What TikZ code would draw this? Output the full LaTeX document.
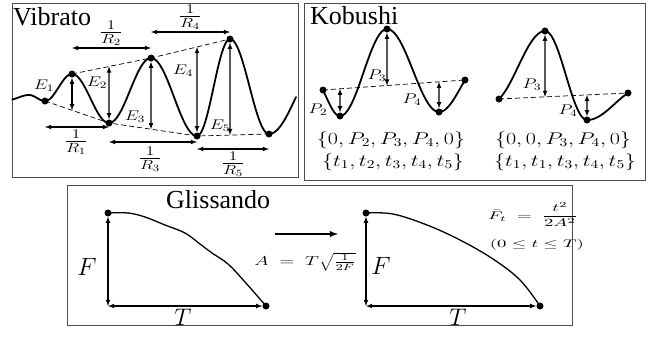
\RequirePackage{fix-cm}
\documentclass[tikz,border=0pt]{standalone}
\usepackage{fontspec}
\setmainfont{Liberation Serif}
\usepackage{tikz}
\usetikzlibrary{
  arrows,
  calc
}
\tikzset{>=latex}
\tikzset{
  panel/.style={draw=black!70, line width=0.9pt},
  wave/.style={line width=1.8pt, line cap=round, line join=round},
  envelope/.style={line width=0.7pt, dash pattern=on 5pt off 3pt},
  gap/.style={<->, line width=1.1pt},
  dot/.style={circle, fill=black, inner sep=0pt, minimum size=7pt},
  heading/.style={font=\fontsize{26}{28}\selectfont, inner sep=0pt, anchor=base west},
  elabel/.style={font=\fontsize{14}{16}\selectfont, inner sep=0pt},
  rlabel/.style={font=\fontsize{19}{21}\selectfont, inner sep=0pt},
  slabel/.style={font=\fontsize{17}{19}\selectfont, inner sep=0pt},
  glabel/.style={font=\fontsize{13}{15}\selectfont, inner sep=0pt},
  flabel/.style={font=\fontsize{11}{13}\selectfont, inner sep=0pt}
}
% math squeezed wider, as in the scan
\newcommand{\wide}[1]{\scalebox{1.3}[1]{$#1$}}
\newcommand{\wider}[1]{\scalebox{1.5}[1]{$#1$}}
\newcommand{\widest}[1]{\scalebox{1.7}[1]{$#1$}}

\begin{document}
\begin{tikzpicture}[x=1pt, y=-1pt]
  \useasboundingbox (0,0) rectangle (657,338);

  % panels
  \draw[panel] (12,3) rectangle (298,177);
  \draw[panel] (304,3) rectangle (645,180);
  \draw[panel] (67,185) rectangle (572,325);
  \node[heading] (vtitle) at (13,25) {Vibrato};
  \node[heading] (ktitle) at (310,24) {Kobushi};
  \node[heading] (gtitle) at (166,208) {Glissando};

  %%% Vibrato
  \coordinate (v0) at (45,101);
  \coordinate (v1) at (72,74);
  \coordinate (v2) at (109,123);
  \coordinate (v3) at (151,58);
  \coordinate (v4) at (197,136);
  \coordinate (v5) at (230,39);
  \coordinate (v6) at (269,134);
  \draw[envelope] (v1) -- (v3) -- (v5);
  \draw[envelope] (v0) -- (v2) -- (v4) -- (v6);
  \foreach \xa/\ya/\xb/\yb/\ta/\tb in {8/100/29/95/0.2/1, 29/95/45/101/0/1,
      45/101/72/74/0/1, 72/74/109/123/0/1, 109/123/151/58/0/1,
      151/58/197/136/0/1, 197/136/230/39/0/1, 230/39/269/134/0/1,
      269/134/323/60/0/0.5}
    \draw[wave] plot[domain=\ta:\tb, samples=30, variable=\t, smooth]
      ({\xa+(\xb-\xa)*\t}, {\ya+(\yb-\ya)*(1-cos(180*\t))/2});
  \foreach \p in {v0,v1,v2,v3,v4,v5,v6}
    \node[dot] (d\p) at (\p) {};

  \coordinate (e1) at ($(v0)!27/64!(v2)$);
  \coordinate (e2) at ($(v1)!37/79!(v3)$);
  \coordinate (e3) at ($(v2)!42/88!(v4)$);
  \coordinate (e4) at ($(v3)!46/79!(v5)$);
  \coordinate (e5) at ($(v4)!33/72!(v6)$);
  \draw[gap] (dv1) -- (e1);
  \draw[gap] (e2) -- (dv2);
  \draw[gap] (dv3) -- (e3);
  \draw[gap] (e4) -- (dv4);
  \draw[gap] (dv5) -- (e5);
  \node[elabel] (le1) at (44,86) {\wide{E_1}};
  \node[elabel] (le2) at (97,83) {\wide{E_2}};
  \node[elabel] (le3) at (135,117) {\wide{E_3}};
  \node[elabel] (le4) at (183,71) {\wide{E_4}};
  \node[elabel] (le5) at (220,126) {\wide{E_5}};

  \coordinate (r1a) at (v0 |- 0,127);  \coordinate (r1b) at (v2 |- 0,127);
  \coordinate (r2a) at (v1 |- 0,48);   \coordinate (r2b) at (v3 |- 0,48);
  \coordinate (r3a) at (v2 |- 0,142);  \coordinate (r3b) at (v4 |- 0,142);
  \coordinate (r4a) at (v3 |- 0,32);   \coordinate (r4b) at (v5 |- 0,32);
  \coordinate (r5a) at (v4 |- 0,149);  \coordinate (r5b) at (v6 |- 0,149);
  \foreach \i in {1,...,5}
    \draw[gap] (r\i a) -- (r\i b);
  \node[rlabel] (lr1) at (76,142) {\wide{\frac{1}{R_1}}};
  \node[rlabel] (lr2) at (111,33) {\wide{\frac{1}{R_2}}};
  \node[rlabel] (lr3) at (150,159) {\wide{\frac{1}{R_3}}};
  \node[rlabel] (lr4) at (190,17) {\wide{\frac{1}{R_4}}};
  \node[rlabel] (lr5) at (233,164) {\wide{\frac{1}{R_5}}};

  %%% Kobushi
  \coordinate (k0) at (323,90);
  \coordinate (k1) at (340,116);
  \coordinate (k2) at (387,29);
  \coordinate (k3) at (439,112);
  \coordinate (k4) at (465,80);
  \coordinate (q0) at (499,99);
  \coordinate (q1) at (545,31);
  \coordinate (q2) at (587,120);
  \coordinate (q3) at (628,93);
  \draw[envelope] (k0) -- (k4);
  \draw[envelope] (q0) -- (q3);
  \foreach \xa/\ya/\xb/\yb/\ta/\tb in {311.7/76.3/340/116/0.4/1,
      340/116/387/29/0/1, 387/29/439/112/0/1, 439/112/482.3/63.2/0/0.6,
      490.9/102.9/545/31/0.15/1, 545/31/587/120/0/1, 587/120/641.7/88.4/0/0.75}
    \draw[wave] plot[domain=\ta:\tb, samples=30, variable=\t, smooth]
      ({\xa+(\xb-\xa)*\t}, {\ya+(\yb-\ya)*(1-cos(180*\t))/2});
  \foreach \p in {k0,k1,k2,k3,k4,q0,q1,q2,q3}
    \node[dot] (d\p) at (\p) {};

  \coordinate (p2) at ($(k0)!17/142!(k4)$);
  \coordinate (p3) at ($(k0)!64/142!(k4)$);
  \coordinate (p4) at ($(k0)!116/142!(k4)$);
  \coordinate (s3) at ($(q0)!46/129!(q3)$);
  \coordinate (s4) at ($(q0)!88/129!(q3)$);
  \draw[gap] (p2) -- (dk1);
  \draw[gap] (dk2) -- (p3);
  \draw[gap] (p4) -- (dk3);
  \draw[gap] (dq1) -- (s3);
  \draw[gap] (s4) -- (dq2);
  \node[elabel] (lp2) at (318,110) {\wide{P_2}};
  \node[elabel] (lp3) at (377,76) {\wide{P_3}};
  \node[elabel] (lp4) at (412,100) {\wide{P_4}};
  \node[elabel] (lp3b) at (532,85) {\wide{P_3}};
  \node[elabel] (lp4b) at (568,111) {\wide{P_4}};
  \node[slabel] (pset) at (391,140) {\wide{\{0, P_2, P_3, P_4, 0\}}};
  \node[slabel] (tset) at (393,162) {\wide{\{t_1, t_2, t_3, t_4, t_5\}}};
  \node[slabel] (pset2) at (563,140) {\wide{\{0, 0, P_3, P_4, 0\}}};
  \node[slabel] (tset2) at (565,162) {\wide{\{t_1, t_1, t_3, t_4, t_5\}}};

  %%% Glissando
  \coordinate (ga) at (108,213);
  \coordinate (gc) at (108,306);
  \coordinate (gb) at (266,306);
  \coordinate (ha) at (366,213);
  \coordinate (hc) at (366,306);
  \coordinate (hb) at (540,306);
  \draw[wave, line width=1.3pt] plot[smooth, tension=0.6] coordinates {(ga) (128,213)
      (145,217) (165,225) (185,233) (200,244) (212,253) (228,264) (245,282) (gb)};
  \draw[wave, line width=1.3pt] plot[smooth, tension=0.6] coordinates {(ha) (393,214)
      (427,225) (460,240) (493,259) (520,280) (hb)};
  \foreach \p in {ga,gb,ha,hb}
    \node[dot] (d\p) at (\p) {};
  \draw[gap] (dga) -- (gc);
  \draw[gap] (gc) -- (dgb);
  \draw[gap] (dha) -- (hc);
  \draw[gap] (hc) -- (dhb);
  \node[font=\fontsize{25}{27}\selectfont, inner sep=0pt] (lf1) at (87,267) {$F$};
  \node[font=\fontsize{24}{26}\selectfont, inner sep=0pt] (lt1) at (183,317) {$T$};
  \node[font=\fontsize{25}{27}\selectfont, inner sep=0pt] (lf2) at (381,266) {$F$};
  \node[font=\fontsize{24}{26}\selectfont, inner sep=0pt] (lt2) at (458,317) {$T$};

  \coordinate (ma) at (275,234);
  \coordinate (mb) at (338,234);
  \draw[->, line width=1.8pt] (ma) -- (mb);
  \node[glabel] (amap) at (305,262) {\wider{A \;=\; T\sqrt{\frac{1}{2F}}}};
  \node[flabel] (fbar) at (533,215) {\widest{\bar{F}_t \;=\; {\displaystyle\frac{t^2}{2A^2}}}};
  \node[flabel] (trange) at (537,245) {\widest{(0 \le t \le T)}};
\end{tikzpicture}
\end{document}
